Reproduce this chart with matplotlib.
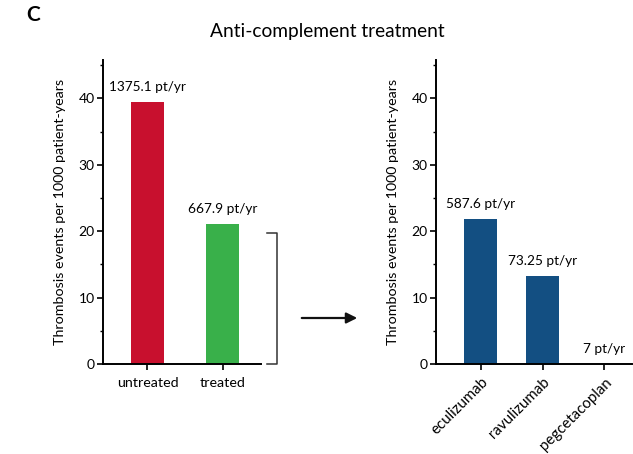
import matplotlib.pyplot as plt
import numpy as np
from matplotlib.ticker import MultipleLocator
from matplotlib.patches import FancyArrowPatch

# thrombosis rates per 1000 patient-years
groups = ["untreated", "treated"]
group_rates = [39.5, 21.1]
group_labels = ["1375.1 pt/yr", "667.9 pt/yr"]
group_colors = ["#C8102E", "#39B04A"]

drugs = ["eculizumab", "ravulizumab", "pegcetacoplan"]
drug_rates = [21.8, 13.3, 0.0]
drug_labels = ["587.6 pt/yr", "73.25 pt/yr", "7 pt/yr"]
drug_color = "#134F82"

plt.rcParams['font.family'] = ['Lato', 'DejaVu Sans']
ylab = "Thrombosis events per 1000 patient-years"

fig = plt.figure(figsize=(6.33, 4.54), dpi=100)
ax1 = fig.add_axes([0.163, 0.198, 0.249, 0.67])
ax2 = fig.add_axes([0.689, 0.198, 0.309, 0.67])


def style(ax):
    for s in ["top", "right"]:
        ax.spines[s].set_visible(False)
    for s in ["left", "bottom"]:
        ax.spines[s].set_linewidth(1.4)
    ax.set_ylim(0, 45.8)
    ax.yaxis.set_major_locator(MultipleLocator(10))
    ax.yaxis.set_minor_locator(MultipleLocator(5))
    ax.tick_params(axis="y", which="major", length=4, width=1.2, labelsize=10, pad=2)
    ax.tick_params(axis="x", which="major", length=4, width=1.2, labelsize=10.3, pad=5)
    ax.tick_params(axis="y", which="minor", length=2.5, width=1.0)
    ax.set_ylabel(ylab, fontsize=10.3, labelpad=9)


def label_bars(ax, bars, texts):
    for b, t in zip(bars, texts):
        ax.annotate(t, (b.get_x() + b.get_width() / 2, b.get_height()),
                    xytext=(0, 6.5), textcoords="offset points",
                    ha="center", va="bottom", fontsize=9.8, annotation_clip=False)


x1 = np.arange(len(groups))
b1 = ax1.bar(x1, group_rates, width=0.43, color=group_colors)
style(ax1)
ax1.set_xlim(-0.59, 1.51)
ax1.set_xticks(x1)
ax1.set_xticklabels(groups)
label_bars(ax1, b1, group_labels)

# bracket around the treated bar
ax1.plot([1.59, 1.727, 1.727, 1.59], [19.8, 19.8, 0, 0], color="#333333",
         lw=1.1, clip_on=False)

x2 = np.arange(len(drugs))
b2 = ax2.bar(x2, drug_rates, width=0.53, color=drug_color)
style(ax2)
ax2.set_xlim(-0.72, 2.44)
ax2.set_xticks(x2)
ax2.set_xticklabels(drugs, rotation=45, ha="right", rotation_mode="anchor")
ax2.tick_params(axis="x", pad=4, labelsize=10.8)
label_bars(ax2, b2, drug_labels)

fig.patches.append(FancyArrowPatch(
    (299 / 633, 1 - 318 / 454), (360 / 633, 1 - 318 / 454),
    transform=fig.transFigure, arrowstyle="-|>", mutation_scale=16,
    color="#111111", lw=1.6))

fig.text(0.5165, 1 - 31 / 454, "Anti-complement treatment", ha="center", va="center", fontsize=13.8)
fig.text(26 / 633, 1 - 15 / 454, "C", ha="left", va="center", fontsize=15, fontweight="bold")

fig.savefig("out.png", dpi=100)
